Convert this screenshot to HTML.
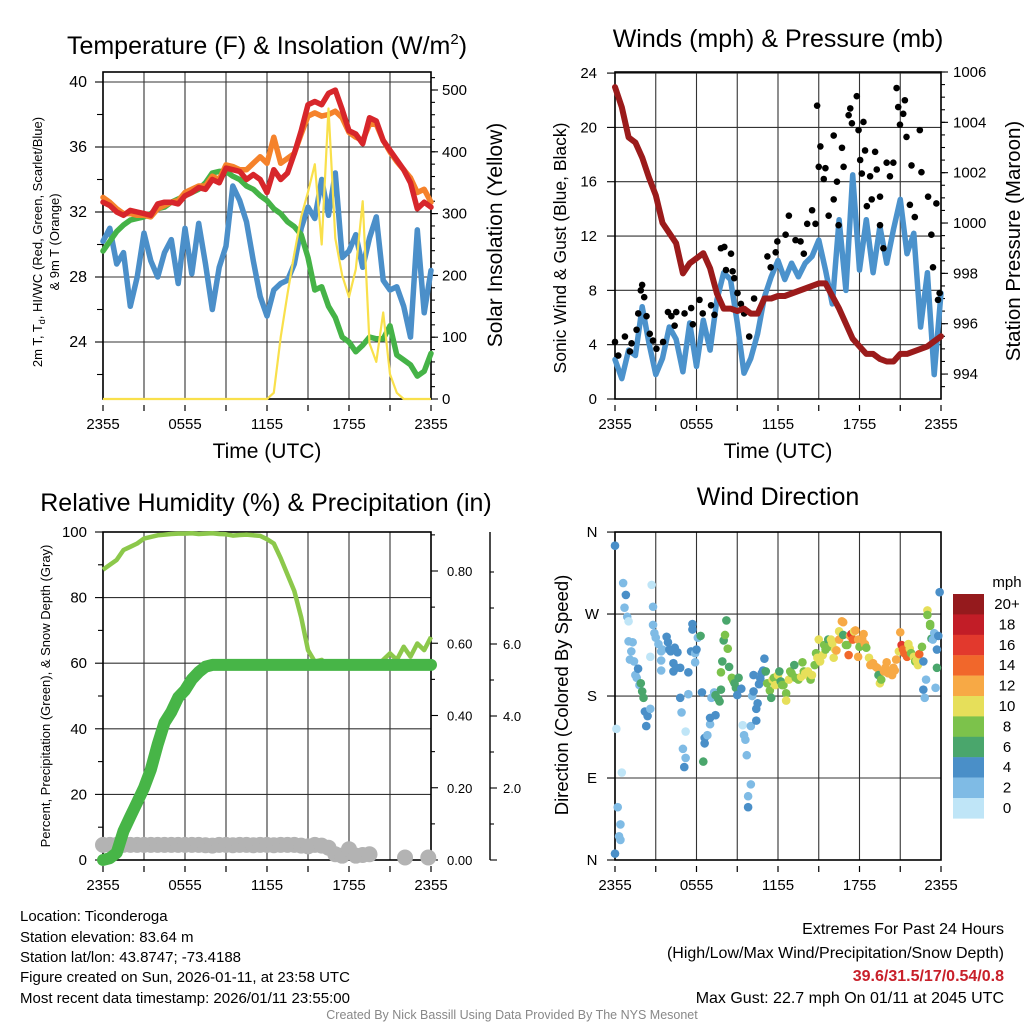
<!DOCTYPE html>
<html><head><meta charset="utf-8"><style>
html,body{margin:0;padding:0;background:#fff;}
svg{display:block;font-family:"Liberation Sans",Arial,sans-serif;}
</style></head><body>
<svg id="fig" width="1024" height="1024" viewBox="0 0 1024 1024">
<rect x="0" y="0" width="1024" height="1024" fill="#fff"/>
<text x="267" y="54" font-size="25" text-anchor="middle">Temperature (F) &amp; Insolation (W/m<tspan dy="-10" font-size="15">2</tspan><tspan dy="10">)</tspan></text>
<text x="778" y="47" font-size="25" text-anchor="middle">Winds (mph) &amp; Pressure (mb)</text>
<text x="266" y="511" font-size="25" text-anchor="middle">Relative Humidity (%) &amp; Precipitation (in)</text>
<text x="778" y="505" font-size="25" text-anchor="middle">Wind Direction</text>
<text x="267" y="458" font-size="21" text-anchor="middle">Time (UTC)</text>
<text x="778" y="458" font-size="21" text-anchor="middle">Time (UTC)</text>
<text transform="translate(42,242) rotate(-90)" font-size="13" text-anchor="middle">2m T, T<tspan dy="3" font-size="9">d</tspan><tspan dy="-3">, HI/WC (Red, Green, Scarlet/Blue)</tspan></text>
<text transform="translate(59,242) rotate(-90)" font-size="13" text-anchor="middle">&amp; 9m T (Orange)</text>
<text transform="translate(502,235) rotate(-90)" font-size="21" text-anchor="middle">Solar Insolation (Yellow)</text>
<text transform="translate(566,248) rotate(-90)" font-size="17.5" text-anchor="middle">Sonic Wind &amp; Gust (Blue, Black)</text>
<text transform="translate(1020,241) rotate(-90)" font-size="20.5" text-anchor="middle">Station Pressure (Maroon)</text>
<text transform="translate(50,696) rotate(-90)" font-size="13" text-anchor="middle">Percent, Precipitation (Green), &amp; Snow Depth (Gray)</text>
<text transform="translate(568,695) rotate(-90)" font-size="18.5" text-anchor="middle">Direction (Colored By Speed)</text>
<text x="1007" y="587" font-size="15" text-anchor="middle">mph</text>
<g font-size="15">
<text x="20" y="921">Location: Ticonderoga</text>
<text x="20" y="942">Station elevation: 83.64 m</text>
<text x="20" y="962">Station lat/lon: 43.8747; -73.4188</text>
<text x="20" y="982">Figure created on Sun, 2026-01-11, at 23:58 UTC</text>
<text x="20" y="1003">Most recent data timestamp: 2026/01/11 23:55:00</text>
</g>
<g font-size="16" text-anchor="end">
<text x="1004" y="934">Extremes For Past 24 Hours</text>
<text x="1004" y="958">(High/Low/Max Wind/Precipitation/Snow Depth)</text>
<text x="1004" y="981" fill="#c8202a" font-weight="bold">39.6/31.5/17/0.54/0.8</text>
<text x="1004" y="1003">Max Gust: 22.7 mph On 01/11 at 2045 UTC</text>
</g>
<text x="512" y="1019" font-size="12.5" fill="#888" text-anchor="middle">Created By Nick Bassill Using Data Provided By The NYS Mesonet</text>
</svg>
<script>
// ---------- data ----------
const halfHours = [0,0.5,1,1.5,2,2.5,3,3.5,4,4.5,5,5.5,6,6.5,7,7.5,8,8.5,9,9.5,10,10.5,11,11.5,12,12.5,13,13.5,14,14.5,15,15.5,16,16.5,17,17.5,18,18.5,19,19.5,20,20.5,21,21.5,22,22.5,23,23.5,24];
const timeTickLabels = ["2355","0555","1155","1755","2355"];
const timeTickHours = [0,6,12,18,24];
const tempRed = [32.6,32.4,32.0,31.8,32.1,32.0,31.9,31.8,32.5,32.6,32.6,32.5,33.0,33.2,33.5,33.4,34.0,33.8,34.7,34.6,34.5,34.0,34.3,34.0,33.2,34.6,34.0,34.4,35.6,37.0,38.6,38.8,38.6,39.3,39.5,38.3,37.0,36.8,36.2,37.8,37.6,36.4,35.8,35.2,34.6,33.8,32.2,32.6,32.3];
const tempOrange = [32.9,32.6,32.2,31.9,31.9,31.8,31.8,31.7,32.2,32.4,32.6,32.7,33.2,33.4,33.6,33.6,34.2,34.0,34.9,34.8,34.6,34.6,35.0,35.4,35.0,36.6,35.0,35.3,35.6,36.8,37.9,38.1,37.9,38.0,38.2,37.8,36.9,36.6,36.4,37.4,37.4,36.4,35.7,35.1,34.6,34.1,33.2,33.4,32.6];
const tempGreen = [29.6,30.2,30.8,31.2,31.5,31.6,31.7,31.9,32.2,32.3,32.6,32.8,33.0,33.2,33.4,33.8,34.4,34.5,34.5,34.2,34.0,33.6,33.4,33.0,32.7,32.2,31.9,31.4,31.1,30.6,29.2,27.2,27.4,26.2,25.5,24.3,24.0,23.4,23.8,24.3,24.2,24.2,25.0,23.2,22.9,22.6,21.9,22.2,23.3];
const tempBlue = [30.2,31.0,28.8,29.5,26.2,28.0,30.7,29.0,28.0,29.5,30.3,27.6,31.0,28.2,31.3,28.8,26.0,28.6,29.9,33.6,32.7,31.4,29.0,26.8,25.6,27.2,27.6,27.8,28.8,31.0,32.3,31.6,34.0,31.8,34.4,29.2,29.6,30.6,28.6,30.4,31.7,27.8,27.2,27.4,26.2,24.3,30.9,25.8,28.4];
const solar = [0,0,0,0,0,0,0,0,0,0,0,0,0,0,0,0,0,0,0,0,0,0,0,0,0,10,100,170,235,295,335,380,250,470,260,200,165,210,320,90,60,140,40,10,0,0,0,0,0];
const tempTicks = [24,28,32,36,40];
const solarTicks = [0,100,200,300,400,500];

const windSpeed = [2.9,1.5,3.6,3.2,6.8,4.1,1.8,3.0,5.3,4.4,2.0,5.6,2.4,5.8,3.6,7.3,9.3,8.8,5.6,1.9,3.0,4.8,7.5,9.0,10.2,8.8,10.0,9.0,10.0,10.5,11.7,9.5,7.0,13.2,8.0,16.5,9.5,13.2,9.3,12.7,10.0,12.5,14.7,10.7,12.2,5.3,9.3,1.8,7.8];
const pressure = [1005.4,1004.6,1003.4,1003.2,1002.6,1001.8,1001.1,1000.0,999.6,999.2,998.0,998.4,998.6,998.8,998.2,997.2,996.6,996.6,996.5,996.6,996.4,996.4,997.0,997.0,997.1,997.1,997.2,997.3,997.4,997.5,997.6,997.6,997.1,996.6,996.0,995.4,995.1,994.8,994.8,994.6,994.5,994.5,994.8,994.8,994.9,995.0,995.1,995.3,995.5];
const gustHours = [0,0.24,0.73,1.1,1.22,1.59,1.71,1.9,2,2.15,2.32,2.56,2.8,3.05,3.54,3.9,4.15,4.39,4.51,5.12,5.61,5.73,6.22,6.46,7.07,7.32,7.8,8.05,8.17,8.54,8.66,8.78,9.02,9.27,9.51,9.88,10.24,11.22,11.46,11.83,11.95,12.56,12.8,13.29,13.66,13.9,14.15,14.51,14.76,14.88,15,15.12,15.37,15.49,15.73,16.1,16.1,16.34,16.46,16.71,16.83,17.2,17.32,17.44,17.8,17.93,18.29,18.05,18.17,18.41,18.54,18.78,18.9,19.15,19.27,19.51,19.51,19.76,20,20.24,20.49,20.73,20.85,20.98,21.22,21.34,21.46,21.71,21.83,22.07,22.44,22.56,23.05,23.29,23.41,23.66,23.78,23.9];
const gustSpeed = [4.2,3.2,4.6,3.5,4.1,5.1,6.3,8.0,8.4,7.5,6.1,4.8,4.3,3.7,4.2,6.4,6.1,5.4,6.4,6.3,6.7,5.5,7.3,6.3,6.9,6.2,11.1,11.2,9.5,10.7,9.4,8.9,7.8,7.0,6.3,4.6,7.4,10.5,9.7,10.8,11.6,12.1,13.5,11.7,11.6,10.7,12.9,13.9,12.9,21.6,17.1,18.6,16.2,17.0,13.5,14.7,19.4,16.0,12.8,18.5,17.1,20.9,21.4,20.3,22.3,19.8,20.4,17.6,16.6,18.3,14.2,16.4,14.7,18.2,16.9,14.9,12.8,11.1,17.4,16.4,17.4,22.9,21.5,20.2,21.0,22.0,19.3,14.3,17.2,13.4,19.8,16.7,14.9,12.1,9.7,14.4,7.3,7.8];
const windTicks = [0,4,8,12,16,20,24];
const pressureTicks = [994,996,998,1000,1002,1004,1006];

const rhValues = [88.5,90,91.5,94.5,95.5,96.5,98,98.5,99,99.2,99.4,99.5,99.5,99.6,99.4,99.5,99.6,99.4,99.3,98.9,99.1,99.2,99.0,98.8,97.8,96.5,92,87,82,74,64,60.5,61,59,58.5,59.5,58.5,60,59,60.5,59.5,61,63,61,65,62,66,64,68];
const precipIn = [0,0.005,0.02,0.08,0.12,0.16,0.20,0.25,0.32,0.38,0.41,0.45,0.47,0.50,0.52,0.535,0.54,0.54,0.54,0.54,0.54,0.54,0.54,0.54,0.54,0.54,0.54,0.54,0.54,0.54,0.54,0.54,0.54,0.54,0.54,0.54,0.54,0.54,0.54,0.54,0.54,0.54,0.54,0.54,0.54,0.54,0.54,0.54,0.54];
const snowHours = [0,0.5,1,1.5,2,2.5,3,3.5,4,4.5,5,5.5,6,6.5,7,7.5,8,8.5,9,9.5,10,10.5,11,11.5,12,12.5,13,13.5,14,14.5,15,15.5,16,16.5,17,17.5,18,18.5,19,19.5,22.1,23.8];
const snowDepth = [0.42,0.42,0.42,0.42,0.42,0.42,0.42,0.42,0.42,0.42,0.42,0.42,0.42,0.42,0.42,0.41,0.40,0.42,0.42,0.41,0.42,0.42,0.41,0.42,0.42,0.41,0.42,0.42,0.42,0.40,0.38,0.42,0.40,0.34,0.16,0.12,0.30,0.12,0.14,0.16,0.07,0.07];
const percentTicks = [0,20,40,60,80,100];
const precipTicks = ["0.00","0.20","0.40","0.60","0.80"];
const snowTicks = ["2.0","4.0","6.0"];

const dirHours = [0.0,0.6,0.8,0.7,0.9,1.0,1.0,1.3,1.2,1.1,1.4,1.5,1.6,1.7,1.8,1.9,2.0,2.1,2.2,2.4,2.3,2.6,2.7,2.8,2.8,2.9,3.0,3.2,2.6,3.4,3.5,3.4,3.4,3.8,3.9,4.0,4.1,4.4,4.6,4.3,4.3,4.5,4.8,4.8,4.9,5.2,5.0,5.2,5.1,5.4,5.4,5.6,5.7,5.7,5.9,5.9,6.0,6.1,6.3,6.4,6.5,6.6,6.6,6.8,7.0,7.0,7.1,7.3,7.4,7.4,7.6,7.7,7.8,7.9,7.8,8.0,8.1,8.2,8.3,8.4,8.6,8.7,8.8,8.9,9.0,9.1,9.3,9.4,9.5,9.6,9.7,10.0,9.8,9.8,10.0,10.1,10.2,10.2,10.4,10.5,10.4,10.6,10.7,10.8,10.9,11.0,11.1,11.2,11.4,11.5,11.6,11.7,11.8,12.0,12.1,12.2,12.3,12.4,12.6,12.6,12.8,12.9,13.0,13.2,13.3,13.5,13.7,13.8,13.9,14.0,14.2,14.3,14.4,14.5,14.7,14.8,14.9,15.0,15.1,15.3,15.4,15.5,15.7,15.7,15.9,16.0,16.1,16.2,16.3,16.5,16.5,16.7,16.8,16.8,17.0,17.1,17.2,17.3,17.4,17.5,17.6,17.7,17.9,17.9,18.0,18.2,18.3,18.4,18.5,18.7,18.8,19.0,19.2,19.3,19.4,19.5,19.6,19.8,19.9,20.0,20.1,20.3,20.4,20.5,20.6,20.7,20.9,21.0,21.1,21.2,21.3,21.5,21.6,21.7,21.8,22.0,22.1,22.2,22.3,22.4,22.6,22.7,22.7,22.8,22.9,23.0,23.0,23.2,23.2,23.3,23.4,23.5,23.6,23.7,23.7,23.8,23.9,0.1,0.5,0.2,0.4,0.3,0.4,0.0];
const dirDeg = [345,304,291,277,267,262,240,239,229,220,218,203,200,210,192,194,185,178,163,158,147,166,302,278,258,249,244,237,223,229,231,219,208,245,239,231,229,233,228,216,207,211,211,178,162,141,122,112,102,182,206,229,253,259,227,217,231,244,246,184,108,134,128,137,149,156,178,184,159,181,177,174,187,218,206,241,247,263,232,212,200,197,194,189,181,200,188,148,137,132,115,83,70,58,147,180,185,203,166,172,153,193,199,205,208,221,207,194,186,178,198,200,192,203,207,196,192,192,183,175,198,207,205,214,200,198,201,217,207,205,207,201,198,203,214,227,222,242,218,225,236,231,242,234,242,238,222,231,230,242,251,262,261,247,236,236,225,246,248,242,251,252,242,223,234,242,248,237,233,222,214,216,212,211,203,194,198,207,211,217,205,207,203,211,208,220,229,250,236,231,227,223,237,232,227,223,218,219,214,226,234,218,187,178,198,274,269,259,257,243,242,249,189,211,231,246,294,144,96,58,39,26,22,7];
const dirSpeed = [4,2,4,2,2,0,2,2,2,2,2,2,2,4,2,6,6,6,4,4,4,2,0,2,2,2,2,2,0,2,2,2,2,4,4,4,4,4,4,4,4,4,4,4,2,0,2,2,4,2,4,4,4,4,2,2,4,2,6,4,6,4,4,2,2,4,2,2,4,6,6,6,6,6,8,6,8,6,8,6,8,8,6,6,4,6,4,0,2,2,2,2,2,4,2,2,4,4,4,4,4,4,4,4,4,4,6,8,8,6,10,8,10,10,6,6,8,8,8,10,10,8,8,6,8,8,10,8,8,10,10,10,8,10,8,8,10,10,10,10,8,8,6,8,10,10,10,10,12,12,10,12,12,6,8,8,14,12,16,14,10,12,12,12,8,12,12,12,8,10,12,12,12,12,6,10,8,12,12,12,12,12,12,12,12,12,10,12,16,14,14,14,10,10,8,10,8,10,10,14,8,4,4,2,2,10,8,8,8,6,2,2,2,6,4,4,4,0,0,2,2,2,2,4];
const colorbarLabels = ["20+","18","16","14","12","10","8","6","4","2","0"];
const speedColors = {0:"#bfe5f7",2:"#7fbbe5",4:"#4a8fc8",6:"#4aa66c",8:"#7cc24b",10:"#e6df5a",12:"#f7a945",14:"#f1672b",16:"#e2392d",18:"#c21d27",20:"#951a1d"};
const directionTicks = ["N","E","S","W","N"];

// ---------- helpers ----------
const NS = "http://www.w3.org/2000/svg";
const svg = document.getElementById("fig");
function mk(tag, attrs, parent) {
  const e = document.createElementNS(NS, tag);
  for (const k in attrs) e.setAttribute(k, attrs[k]);
  (parent || svg).appendChild(e);
  return e;
}
function pathOf(xs, ys) {
  return xs.map((x, i) => (i ? "L" : "M") + x.toFixed(1) + " " + ys[i].toFixed(1)).join(" ");
}

const x1 = h => 103 + h * 328 / 24;
const yT = t => 82 + (40 - t) * 16.25;
const yS = w => 399 - w * 0.618;
const x2 = h => 615 + h * 326 / 24;
const yW = m => 399 - m * 13.58;
const yP = p => 72 + (1006 - p) * 25.17;
const x3 = x1;
const yPct = v => 860 - v * 3.28;
const yPr = v => 860 - v * 361.25;
const ySn = v => 860 - v * 36;
const x4 = x2;
const yD = d => 860 - d * 0.911;

function grid(left, right, top, bottom, ys, name) {
  const g = mk("g", {stroke: "#333", "stroke-width": 1.1});
  
  
  for (let i = 0; i <= 8; i++) {
    const x = left + (right - left) * i / 8;
    const l = mk("line", {x1: x, x2: x, y1: top, y2: bottom}, g);
    
    
  }
  ys.forEach(y => {
    const l = mk("line", {x1: left, x2: right, y1: y, y2: y}, g);
    
    
  });
  const f = mk("rect", {x: left, y: top, width: right - left, height: bottom - top, fill: "none", stroke: "#000", "stroke-width": 1.6}, g);
  
  
  return g;
}
function xTicks(xf, yBase, name) {
  const g = mk("g", {"font-size": 15, "text-anchor": "middle"});
  
  
  timeTickHours.forEach((h, i) => {
    const t = mk("text", {x: xf(h), y: yBase}, g);
    t.textContent = timeTickLabels[i];
    
    
  });
  for (let h = 0; h <= 24; h += 3) {
    const l = mk("line", {x1: xf(h), x2: xf(h), y1: yBase - 24, y2: yBase - 18, stroke: "#000", "stroke-width": 1.2}, g);
    
    
  }
}
function tick(x1v, x2v, y, g) {
  const l = mk("line", {x1: x1v, x2: x2v, y1: y, y2: y, stroke: "#000", "stroke-width": 1.1}, g);
  
  
}
function label(x, y, txt, anchor, g) {
  const t = mk("text", {x: x, y: y + 5, "text-anchor": anchor}, g);
  t.textContent = txt;
  
  
}

// ---------- Panel 1 ----------
grid(103, 431, 72, 399, tempTicks.map(yT), "temperature-grid");
xTicks(x1, 429, "temperature-x-axis");
{
  const g = mk("g", {"font-size": 16});
  
  
  tempTicks.forEach(t => { label(87, yT(t), String(t), "end", g); tick(95, 103, yT(t), g); });
  [22, 26, 30, 34, 38].forEach(t => tick(97, 103, yT(t), g));
  const g2 = mk("g", {"font-size": 15});
  
  
  solarTicks.forEach(w => { label(442, yS(w), String(w), "start", g2); tick(431, 438, yS(w), g2); });
  for (let w = 20; w <= 520; w += 20) tick(431, 435, yS(w), g2);
}
const s1 = [["temp-blue-line", tempBlue, "#4b8fc9", 5.5], ["temp-green-line", tempGreen, "#45b347", 5.5], ["temp-orange-line", tempOrange, "#f5822b", 5.5], ["temp-red-line", tempRed, "#d7262b", 5.5]];
s1.forEach(s => {
  const p = mk("path", {d: pathOf(halfHours.map(x1), s[1].map(yT)), fill: "none", stroke: s[2], "stroke-width": s[3], "stroke-linejoin": "round", "stroke-linecap": "round"});
  
  
});
{
  const p = mk("path", {d: pathOf(halfHours.map(x1), solar.map(yS)), fill: "none", stroke: "#f9e04b", "stroke-width": 2.2, "stroke-linejoin": "round"});
  
  
}

// ---------- Panel 2 ----------
grid(615, 941, 72, 399, windTicks.map(yW), "wind-grid");
xTicks(x2, 429, "wind-x-axis");
{
  const g = mk("g", {"font-size": 15});
  
  
  windTicks.forEach(m => { label(597, yW(m), String(m), "end", g); tick(607, 615, yW(m), g); });
  const g2 = mk("g", {"font-size": 15});
  
  
  pressureTicks.forEach(p => { label(953, yP(p), String(p), "start", g2); tick(941, 948, yP(p), g2); });
  for (let p = 993.5; p <= 1006; p += 0.5) tick(941, 945, yP(p), g2);
}
{
  const p = mk("path", {d: pathOf(halfHours.map(x2), windSpeed.map(yW)), fill: "none", stroke: "#4b92cc", "stroke-width": 5.5, "stroke-linejoin": "round", "stroke-linecap": "round"});
  
  
  const g = mk("g", {fill: "#000"});
  
  
  gustHours.forEach((h, i) => {
    const c = mk("circle", {cx: x2(h), cy: yW(gustSpeed[i]), r: 3.3}, g);
    
    
  });
  const q = mk("path", {d: pathOf(halfHours.map(x2), pressure.map(yP)), fill: "none", stroke: "#9b1b1b", "stroke-width": 6, "stroke-linejoin": "round", "stroke-linecap": "round"});
  
  
}

// ---------- Panel 3 ----------
grid(103, 431, 532, 860, percentTicks.map(yPct), "humidity-grid");
xTicks(x3, 890, "humidity-x-axis");
{
  const g = mk("g", {"font-size": 15});
  
  
  percentTicks.forEach(v => { label(87, yPct(v), String(v), "end", g); tick(95, 103, yPct(v), g); });
  [10, 30, 50, 70, 90].forEach(v => tick(98, 103, yPct(v), g));
  const g2 = mk("g", {"font-size": 13});
  
  
  precipTicks.forEach(t => { label(447, yPr(parseFloat(t)), t, "start", g2); tick(431, 438, yPr(parseFloat(t)), g2); });
  [0.1, 0.3, 0.5, 0.7, 0.9].forEach(v => tick(431, 435, yPr(v), g2));
  const sp = mk("line", {x1: 490, x2: 490, y1: 532, y2: 860, stroke: "#000", "stroke-width": 1.4}, g2);
  
  
  snowTicks.forEach(t => { label(503, ySn(parseFloat(t)), t, "start", g2); tick(490, 497, ySn(parseFloat(t)), g2); });
  [1, 3, 5, 7, 8].forEach(v => tick(490, 494, ySn(v), g2));
  tick(490, 497, ySn(0), g2);
}
{
  const g = mk("g", {fill: "#b3b3b3"});
  
  
  snowHours.forEach((h, i) => {
    const c = mk("circle", {cx: x3(h), cy: ySn(snowDepth[i]), r: 8}, g);
    
    
  });
  const p = mk("path", {d: pathOf(halfHours.map(x3), rhValues.map(yPct)), fill: "none", stroke: "#8cc84b", "stroke-width": 4.5, "stroke-linejoin": "round"});
  
  
  const q = mk("path", {d: pathOf(halfHours.map(x3), precipIn.map(yPr)), fill: "none", stroke: "#47b547", "stroke-width": 12, "stroke-linejoin": "round", "stroke-linecap": "round"});
  
  
}

// ---------- Panel 4 ----------
grid(615, 941, 532, 860, [0, 90, 180, 270, 360].map(yD), "direction-grid");
xTicks(x4, 890, "direction-x-axis");
{
  const g = mk("g", {"font-size": 15});
  
  
  directionTicks.forEach((t, i) => { label(592, yD(i * 90), t, "middle", g); tick(607, 615, yD(i * 90), g); });
  const dots = mk("g", {});
  
  
  dirHours.forEach((h, i) => {
    const c = mk("circle", {cx: x4(h), cy: yD(dirDeg[i]), r: 4.3, fill: speedColors[dirSpeed[i]]}, dots);
    
    
  });
  const cb = mk("g", {"font-size": 15, "text-anchor": "middle"});
  
  
  colorbarLabels.forEach((lab, i) => {
    const v = 20 - i * 2;
    const r = mk("rect", {x: 953, y: 594 + i * 20.4, width: 31, height: 20.6, fill: speedColors[v]}, cb);
    
    
    const t = mk("text", {x: 1007, y: 594 + i * 20.4 + 15}, cb);
    t.textContent = lab;
    
    
  });
}
</script>
</body></html>
